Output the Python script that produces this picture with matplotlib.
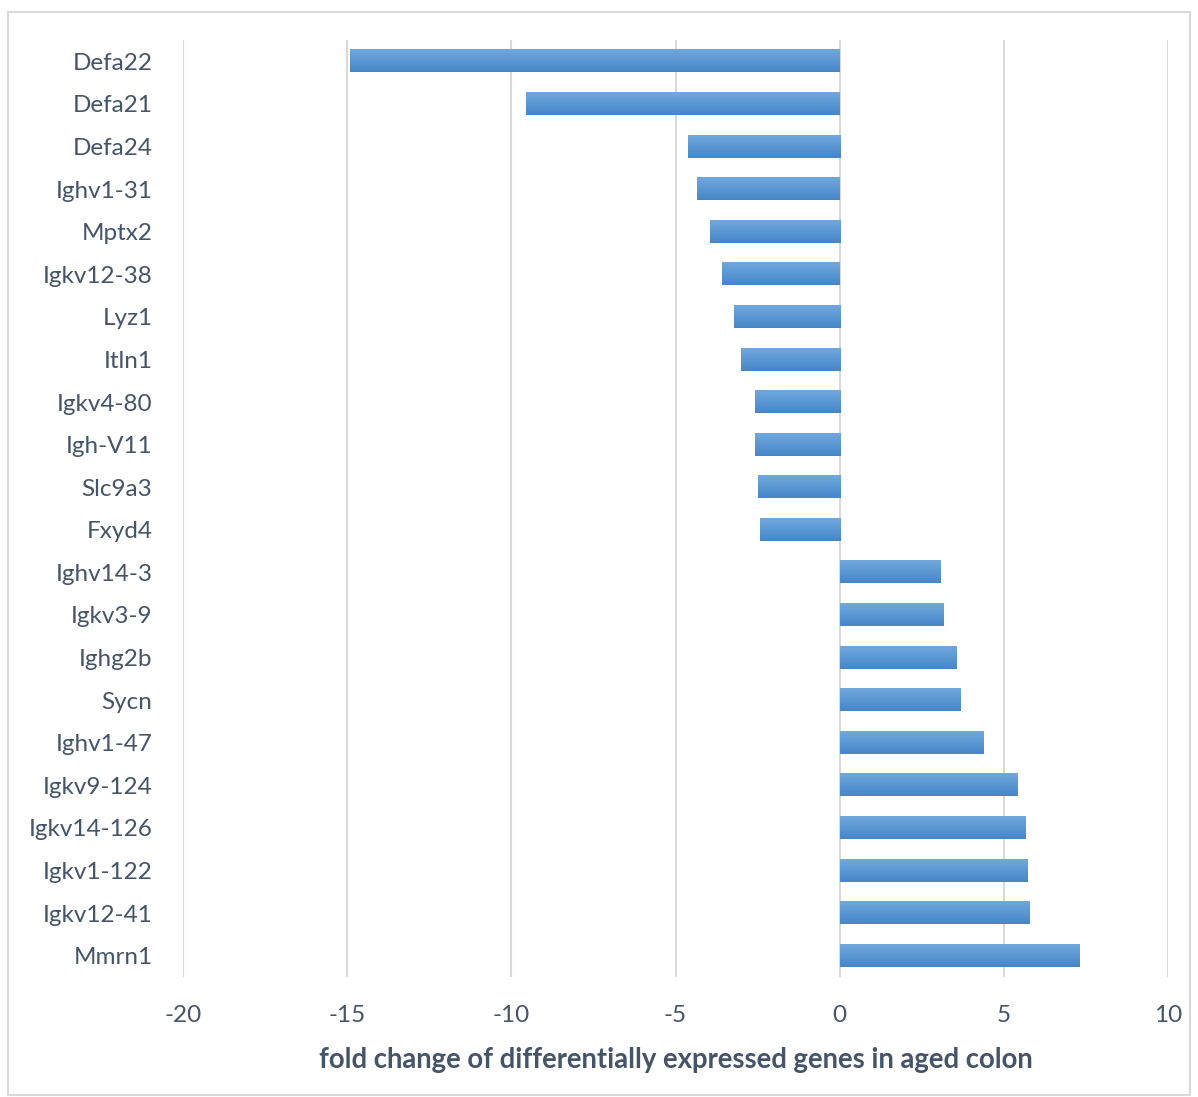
import numpy as np
import matplotlib.pyplot as plt
from matplotlib.patches import Rectangle
from matplotlib.colors import LinearSegmentedColormap

genes = ["Defa22", "Defa21", "Defa24", "Ighv1-31", "Mptx2", "Igkv12-38", "Lyz1",
         "Itln1", "Igkv4-80", "Igh-V11", "Slc9a3", "Fxyd4", "Ighv14-3", "Igkv3-9",
         "Ighg2b", "Sycn", "Ighv1-47", "Igkv9-124", "Igkv14-126", "Igkv1-122",
         "Igkv12-41", "Mmrn1"]
fold = [-14.9, -9.56, -4.63, -4.33, -3.96, -3.59, -3.23, -3.02, -2.59, -2.59,
        -2.50, -2.44, 3.05, 3.14, 3.56, 3.66, 4.36, 5.42, 5.64, 5.70, 5.76, 7.28]
xticks = [-20, -15, -10, -5, 0, 5, 10]

txt = "#44546a"
plt.rcParams["font.family"] = ["Lato", "DejaVu Sans"]

fig = plt.figure(figsize=(11.98, 10.97), dpi=100)
W, H = 1198, 1097
ax = fig.add_axes([183 / W, 1 - 977 / H, (1168 - 183) / W, (977 - 40) / H])

# vertical gradient, lighter at top
grad = np.linspace(0, 1, 64).reshape(-1, 1)
cmap = LinearSegmentedColormap.from_list("bar", ["#70a8de", "#4686c8"])

n = len(genes)
ypos = np.arange(n)
h = 0.52
for y, v in zip(ypos, fold):
    x0, x1 = min(0, v), max(0, v)
    ax.imshow(grad, cmap=cmap, aspect="auto", extent=(x0, x1, y + h / 2, y - h / 2),
              zorder=3, interpolation="bilinear")

ax.set_xlim(-20, 10)
ax.set_ylim(n - 0.5, -0.5)
ax.set_aspect("auto")
ax.set_xticks(xticks)
ax.set_xticklabels([str(t) for t in xticks])
ax.set_yticks(ypos)
ax.set_yticklabels(genes)
ax.tick_params(length=0, labelsize=17.5, colors=txt)
ax.tick_params(axis="y", pad=22)
ax.tick_params(axis="x", pad=20)
ax.grid(axis="x", color="#d9d9d9", lw=1.5, zorder=0)
ax.set_axisbelow(True)
for s in ax.spines.values():
    s.set_visible(False)
ax.set_xlabel("fold change of differentially expressed genes in aged colon",
              fontsize=19.8, fontweight="bold", color=txt, labelpad=15)

fig.patches.append(Rectangle((8 / W, 1 - 1095 / H), (1190 - 8) / W, (1095 - 12) / H,
                             transform=fig.transFigure, fill=False,
                             edgecolor="#d9d9d9", lw=1.5))

fig.savefig("out.png", dpi=100)
